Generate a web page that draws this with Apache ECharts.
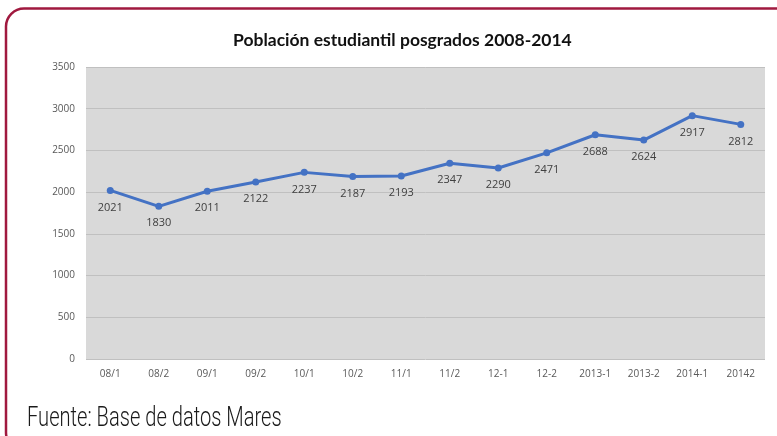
<!DOCTYPE html>
<html>
<head>
<meta charset="utf-8">
<script src="https://cdn.jsdelivr.net/npm/echarts@6/dist/echarts.min.js"></script>
<style>
  html, body { margin: 0; padding: 0; background: #fff; }
  #main { width: 777px; height: 436px; }
</style>
</head>
<body>
<div id="main"></div>
<script>
// datos del grafico
var periodos = ['08/1', '08/2', '09/1', '09/2', '10/1', '10/2', '11/1', '11/2', '12-1', '12-2', '2013-1', '2013-2', '2014-1', '20142'];
var poblacion = [2021, 1830, 2011, 2122, 2237, 2187, 2193, 2347, 2290, 2471, 2688, 2624, 2917, 2812];
var ejeY = { min: 0, max: 3500, interval: 500 };

var chart = echarts.init(document.getElementById('main'), null, { renderer: 'canvas' });

var option = {
    backgroundColor: '#ffffff',
    animation: false,
    title: {
        text: 'Población estudiantil posgrados 2008-2014',
        left: 228,
        top: 26,
        textStyle: {
            fontFamily: 'Lato',
            fontWeight: 'bold',
            fontSize: 17.5,
            color: '#111111'
        }
    },
    grid: {
        left: 86,
        top: 67,
        width: 679,
        height: 292,
        show: true,
        backgroundColor: '#d9d9d9',
        borderWidth: 0
    },
    xAxis: {
        type: 'category',
        data: periodos,
        boundaryGap: true,
        axisLine: { show: false },
        axisTick: { show: false },
        axisLabel: {
            color: '#595959',
            fontFamily: 'Open Sans',
            fontSize: 10,
            margin: 10
        }
    },
    yAxis: {
        type: 'value',
        min: ejeY.min,
        max: ejeY.max,
        interval: ejeY.interval,
        axisLine: { show: false },
        axisTick: { show: false },
        splitLine: { lineStyle: { color: '#c0c0c0', width: 1 } },
        axisLabel: {
            color: '#595959',
            fontFamily: 'Open Sans',
            fontSize: 10,
            margin: 11,
            formatter: function (v) { return String(v); }
        }
    },
    series: [{
        type: 'line',
        data: poblacion,
        symbol: 'circle',
        symbolSize: 7,
        lineStyle: { color: '#4472c4', width: 3 },
        itemStyle: { color: '#4472c4' },
        label: {
            show: true,
            position: 'bottom',
            distance: 8,
            color: '#404040',
            fontFamily: 'Open Sans',
            fontSize: 11
        }
    }],
    graphic: [
        {
            type: 'rect',
            shape: { x: 6, y: 8.5, width: 790, height: 442, r: 18 },
            style: { fill: null, stroke: '#a0193f', lineWidth: 2.5 },
            silent: true
        },
        {
            type: 'text',
            x: 27,
            y: 406,
            scaleX: 0.745,
            style: {
                text: 'Fuente: Base de datos Mares',
                fontFamily: 'Roboto',
                fontWeight: 300,
                fontSize: 27,
                fill: '#1a1a1a'
            }
        }
    ]
};

chart.setOption(option);
</script>
</body>
</html>
